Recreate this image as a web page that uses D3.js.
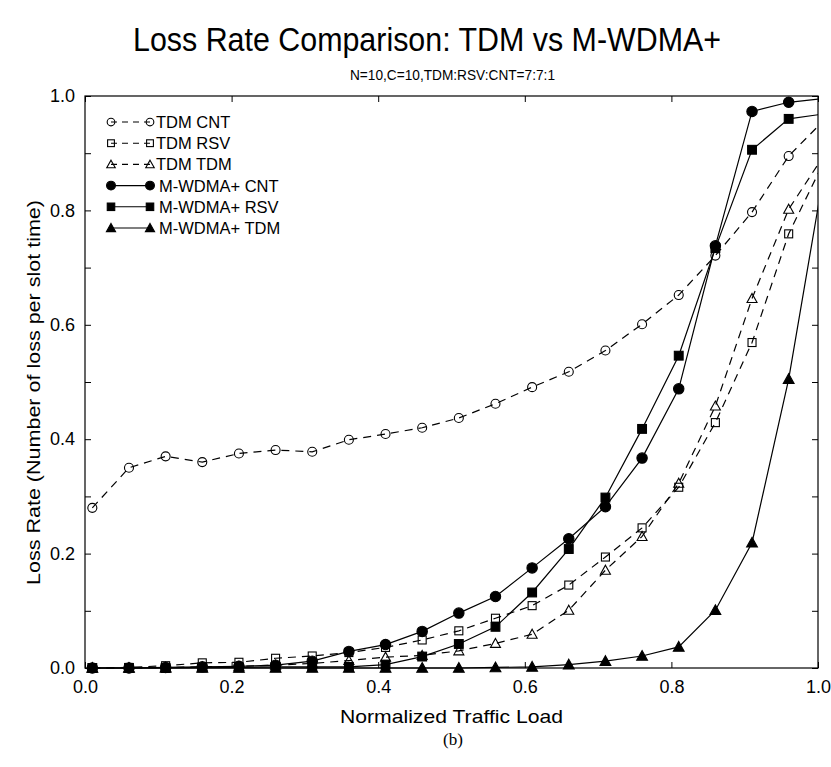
<!DOCTYPE html>
<html>
<head>
<meta charset="utf-8">
<script src="https://cdn.jsdelivr.net/npm/d3@7"></script>
<style>
  html, body { margin: 0; padding: 0; background: #fff; }
  svg { display: block; }
  text { font-family: "Liberation Sans", Arial, Helvetica, sans-serif; fill: #000; }
</style>
</head>
<body>
<svg id="chart" width="831" height="767"></svg>
<script>
// ---- data ----
const loads = [0.01, 0.06, 0.11, 0.16, 0.21, 0.26, 0.31, 0.36, 0.41, 0.46, 0.51,
               0.56, 0.61, 0.66, 0.71, 0.76, 0.81, 0.86, 0.91, 0.96, 1.01];
const tdmCnt = [0.28, 0.35, 0.37, 0.36, 0.375, 0.381, 0.378, 0.399, 0.409, 0.42, 0.437,
                0.462, 0.491, 0.518, 0.555, 0.601, 0.652, 0.721, 0.797, 0.895, 0.96];
const tdmRsv = [0, 0.001, 0.004, 0.009, 0.01, 0.017, 0.021, 0.027, 0.036, 0.049, 0.065,
                0.087, 0.109, 0.145, 0.194, 0.245, 0.316, 0.429, 0.569, 0.759, 0.89];
const tdmTdm = [0, 0, 0.001, 0.002, 0.003, 0.005, 0.008, 0.013, 0.019, 0.022, 0.030,
                0.043, 0.059, 0.101, 0.171, 0.230, 0.323, 0.458, 0.646, 0.802, 0.90];
const wdmaCnt = [0, 0, 0.001, 0.002, 0.003, 0.005, 0.012, 0.029, 0.041, 0.064, 0.096,
                 0.125, 0.175, 0.226, 0.282, 0.367, 0.488, 0.738, 0.973, 0.989, 0.996];
const wdmaRsv = [0, 0, 0, 0.001, 0.001, 0.002, 0.002, 0.002, 0.006, 0.020, 0.042,
                 0.072, 0.132, 0.208, 0.298, 0.418, 0.546, 0.734, 0.906, 0.960, 0.969];
const wdmaTdm = [0, 0, 0, 0, 0, 0, 0, 0, 0, 0, 0,
                 0.001, 0.002, 0.006, 0.012, 0.021, 0.037, 0.101, 0.219, 0.505, 0.88];

const seriesNames = ["TDM CNT", "TDM RSV", "TDM TDM", "M-WDMA+ CNT", "M-WDMA+ RSV", "M-WDMA+ TDM"];
const seriesValues = [tdmCnt, tdmRsv, tdmTdm, wdmaCnt, wdmaRsv, wdmaTdm];
const seriesShapes = ["circle", "square", "triangle", "circle", "square", "triangle"];
const seriesFilled = [false, false, false, true, true, true];

const xTicks = [0.0, 0.2, 0.4, 0.6, 0.8, 1.0];
const yTicks = [0.0, 0.2, 0.4, 0.6, 0.8, 1.0];
const yMinorTicks = [0.1, 0.3, 0.5, 0.7, 0.9];

const titleText = "Loss Rate Comparison: TDM vs M-WDMA+";
const subtitleText = "N=10,C=10,TDM:RSV:CNT=7:7:1";
const xLabel = "Normalized Traffic Load";
const yLabel = "Loss Rate (Number of loss per slot time)";
const captionText = "(b)";

// ---- layout ----
const L = 85, R = 818, T = 96, B = 668;
const svg = d3.select("#chart");
const x = d3.scaleLinear().domain([0, 1]).range([L, R]);
const y = d3.scaleLinear().domain([0, 1]).range([B, T]);

svg.append("defs").append("clipPath").attr("id", "plotclip")
  .append("rect").attr("x", L).attr("y", T - 1).attr("width", R - L).attr("height", B - T + 2);

// titles
svg.append("text").attr("x", 133).attr("y", 51)
  .attr("textLength", 588).attr("lengthAdjust", "spacingAndGlyphs")
  .style("font-size", "33px").text(titleText);
svg.append("text").attr("x", 350).attr("y", 80)
  .attr("textLength", 205).attr("lengthAdjust", "spacingAndGlyphs")
  .style("font-size", "15px").text(subtitleText);

// axes (inward ticks, all four sides)
const fmt = d3.format(".1f");
const tl = 6;
const gB = svg.append("g").attr("transform", `translate(0,${B})`)
  .call(d3.axisBottom(x).tickValues(xTicks).tickFormat(fmt).tickSizeInner(-tl).tickSizeOuter(0).tickPadding(12));
const gT = svg.append("g").attr("transform", `translate(0,${T})`)
  .call(d3.axisTop(x).tickValues(xTicks).tickFormat("").tickSizeInner(-tl).tickSizeOuter(0));
const gL = svg.append("g").attr("transform", `translate(${L},0)`)
  .call(d3.axisLeft(y).tickValues(yTicks.concat(yMinorTicks)).tickFormat(d => yTicks.includes(d) ? fmt(d) : "")
        .tickSizeInner(-tl).tickSizeOuter(0).tickPadding(10));
const gR = svg.append("g").attr("transform", `translate(${R},0)`)
  .call(d3.axisRight(y).tickValues(yTicks.concat(yMinorTicks)).tickFormat("").tickSizeInner(-tl).tickSizeOuter(0));
[gB, gT, gL, gR].forEach(g => {
  g.select(".domain").remove();
  g.selectAll("line").attr("stroke", "#000").attr("stroke-width", 1);
  g.selectAll("text").style("font-size", "18px").style("font-family", '"Liberation Sans", Arial, sans-serif');
});
gB.selectAll("text").attr("dy", "0.71em");

svg.append("rect").attr("x", L).attr("y", T).attr("width", R - L).attr("height", B - T)
  .attr("fill", "none").attr("stroke", "#000").attr("stroke-width", 1.2);

// axis labels
svg.append("text").attr("x", 340).attr("y", 723)
  .attr("textLength", 223).attr("lengthAdjust", "spacingAndGlyphs")
  .style("font-size", "19px").text(xLabel);
svg.append("text").attr("transform", `translate(40,585) rotate(-90)`)
  .attr("textLength", 385).attr("lengthAdjust", "spacingAndGlyphs")
  .style("font-size", "19px").text(yLabel);
svg.append("text").attr("x", 453).attr("y", 745).attr("text-anchor", "middle")
  .style("font-family", '"Liberation Serif", "Times New Roman", serif').style("font-size", "17px").text(captionText);

// markers
function drawMarker(g, shape, filled, cx, cy, scale) {
  const s = scale || 1;
  const fill = filled ? "#000" : "none";
  if (shape === "circle") {
    g.append("circle").attr("cx", cx).attr("cy", cy).attr("r", (filled ? 5.2 : 4.5) * s)
      .attr("fill", fill).attr("stroke", "#000").attr("stroke-width", 1.1);
  } else if (shape === "square") {
    const h = (filled ? 4.4 : 4) * s;
    g.append("rect").attr("x", cx - h).attr("y", cy - h).attr("width", 2 * h).attr("height", 2 * h)
      .attr("fill", fill).attr("stroke", "#000").attr("stroke-width", 1.1);
  } else {
    const h = (filled ? 5.4 : 5) * s;
    g.append("path").attr("d", `M${cx},${cy - h}L${cx + h},${cy + h * 0.8}L${cx - h},${cy + h * 0.8}Z`)
      .attr("fill", fill).attr("stroke", "#000").attr("stroke-width", 1.1);
  }
}

const plot = svg.append("g").attr("clip-path", "url(#plotclip)");
const line = d3.line().x(d => x(d[0])).y(d => y(d[1]));
seriesValues.forEach((vals, i) => {
  const pts = loads.map((l, k) => [l, vals[k]]);
  plot.append("path").attr("d", line(pts)).attr("fill", "none").attr("stroke", "#000")
    .attr("stroke-width", 1.2).attr("stroke-dasharray", seriesFilled[i] ? null : "8,6");
});
const markG = svg.append("g");
seriesValues.forEach((vals, i) => {
  loads.forEach((l, k) => {
    if (l <= 1) drawMarker(markG, seriesShapes[i], seriesFilled[i], x(l), y(vals[k]));
  });
});

// legend
const legG = svg.append("g");
const legY0 = 122, legDy = 21.2, lx1 = 111, lx2 = 150;
seriesNames.forEach((name, i) => {
  const yy = legY0 + i * legDy;
  legG.append("line").attr("x1", lx1).attr("x2", lx2).attr("y1", yy).attr("y2", yy)
    .attr("stroke", "#000").attr("stroke-width", 1.1).attr("stroke-dasharray", seriesFilled[i] ? null : "6,5");
  drawMarker(legG, seriesShapes[i], seriesFilled[i], lx1, yy, 0.85);
  drawMarker(legG, seriesShapes[i], seriesFilled[i], lx2, yy, 0.85);
  legG.append("text").attr("x", lx2 + (seriesFilled[i] ? 9 : 6)).attr("y", yy).attr("dy", "0.36em")
    .style("font-size", "16.5px").text(name);
});
</script>
</body>
</html>
